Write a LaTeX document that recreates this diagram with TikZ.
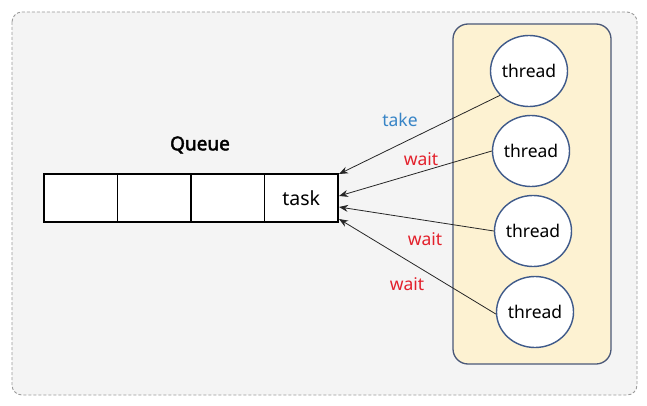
\documentclass[tikz,border=0pt]{standalone}
\usepackage{fontspec}
\setmainfont{Noto Sans}
\newfontfamily\qfont{Noto Sans}[FakeBold=2.5]
\usetikzlibrary{arrows.meta,shapes.geometric}
\definecolor{bgray}{HTML}{F4F4F4}
\definecolor{dgray}{HTML}{9A9A9A}
\definecolor{panelfill}{HTML}{FDF2D2}
\definecolor{panelline}{HTML}{4A5878}
\definecolor{circline}{HTML}{3F5A8A}
\definecolor{takeblue}{HTML}{3784C6}
\definecolor{waitred}{HTML}{E3202B}
\tikzset{
  cell/.style={draw=black, line width=1.6pt, fill=white, minimum width=73.5pt, minimum height=48pt, inner sep=0pt, font=\fontsize{19.5}{21}\selectfont},
  thr/.style={ellipse, draw=circline, line width=1.4pt, fill=white, minimum width=76pt, minimum height=71pt, inner sep=0pt, font=\fontsize{17.5}{19}\selectfont},
  conn/.style={draw=black!85, line width=0.8pt, -{Stealth[length=9pt,width=7pt]}},
  lbl/.style={font=\fontsize{17.5}{19}\selectfont, inner sep=0pt}
}
\begin{document}
\begin{tikzpicture}[x=1pt,y=-1pt]
\useasboundingbox (0,0) rectangle (647,406);
\fill[white] (0,0) rectangle (647,406);
\draw[dgray, fill=bgray, line width=0.9pt, dash pattern=on 3pt off 2pt, rounded corners=10pt] (12,12) rectangle (637,395);
% queue
\node[cell] (c1) at (80.75,198) {};
\node[cell] (c2) at (154.25,198) {};
\node[cell] (c3) at (227.75,198) {};
\node[cell] (c4) at (301.25,198) {task};
\node[font=\fontsize{19}{21}\qfont, inner sep=0pt] (qlabel) at (200,145) {Queue};
% panel
\draw[panelline, fill=panelfill, line width=1.3pt, rounded corners=15pt] (453,24) rectangle (611,364);
\node[thr] (t1) at (529,71) {thread};
\node[thr] (t2) at (531,151) {thread};
\node[thr] (t3) at (533,231) {thread};
\node[thr] (t4) at (535,312) {thread};
% endpoints
\coordinate (e1) at (339,174);
\coordinate (e2) at (339,196);
\coordinate (e3) at (339,207);
\coordinate (e4) at (339,219);
\draw[conn] (t1.220) -- (e1);
\draw[conn] (t2.west) -- (e2);
\draw[conn] (t3.west) -- (e3);
\draw[conn] (t4.183) -- (e4);
\node[lbl, text=takeblue] (l1) at (400,120) {take};
\node[lbl, text=waitred] (l2) at (421,159) {wait};
\node[lbl, text=waitred] (l3) at (425,239) {wait};
\node[lbl, text=waitred] (l4) at (407,284) {wait};
\end{tikzpicture}
\end{document}
